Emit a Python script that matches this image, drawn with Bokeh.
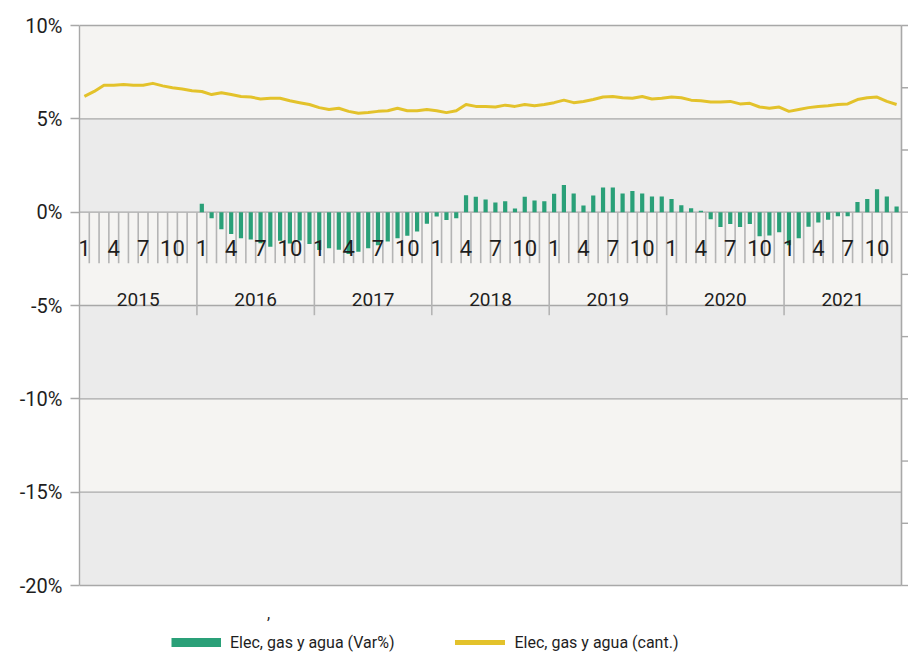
import math
from bokeh.plotting import figure
from bokeh.models import (Range1d, FixedTicker, BoxAnnotation, Legend,
                          LegendItem, Label, ColumnDataSource)
from bokeh.core.properties import value
from bokeh.embed import file_html
from bokeh.resources import INLINE

# ---------------- data ----------------
years = ["2015", "2016", "2017", "2018", "2019", "2020", "2021"]
months = [str(m) for m in range(1, 13)]
shown_month_labels = ["1", "4", "7", "10"]

NA = float("nan")
# Elec, gas y agua (Var%) -- monthly year-on-year variation
var_2015 = [NA] * 12
var_2016 = [0.45, -0.33, -0.91, -1.17, -1.40, -1.46, -1.66, -1.85, -1.53, -1.68, -1.52, -1.71]
var_2017 = [-2.03, -1.93, -2.02, -2.24, -2.12, -1.93, -1.77, -1.57, -1.40, -1.27, -1.03, -0.62]
var_2018 = [-0.23, -0.42, -0.33, 0.91, 0.83, 0.68, 0.52, 0.59, 0.20, 0.82, 0.63, 0.59]
var_2019 = [0.98, 1.45, 1.00, 0.36, 0.89, 1.32, 1.32, 1.00, 1.14, 1.00, 0.84, 0.84]
var_2020 = [0.70, 0.37, 0.21, 0.08, -0.38, -0.79, -0.63, -0.79, -0.63, -1.29, -1.25, -1.07]
var_2021 = [-1.77, -1.40, -0.78, -0.55, -0.40, -0.22, -0.22, 0.54, 0.70, 1.23, 0.84, 0.30]

# Elec, gas y agua (cant.) -- secondary (unlabelled) axis units
cant_2015 = [7.86, 7.94, 8.04, 8.04, 8.05, 8.04, 8.04, 8.07, 8.03, 8.00, 7.98, 7.95]
cant_2016 = [7.94, 7.89, 7.92, 7.89, 7.86, 7.85, 7.82, 7.83, 7.83, 7.79, 7.76, 7.73]
cant_2017 = [7.68, 7.65, 7.67, 7.62, 7.59, 7.60, 7.62, 7.63, 7.67, 7.63, 7.63, 7.65]
cant_2018 = [7.63, 7.60, 7.63, 7.73, 7.70, 7.70, 7.69, 7.72, 7.70, 7.73, 7.71, 7.73]
cant_2019 = [7.76, 7.80, 7.76, 7.78, 7.81, 7.85, 7.86, 7.84, 7.83, 7.86, 7.82, 7.83]
cant_2020 = [7.85, 7.84, 7.80, 7.79, 7.77, 7.77, 7.78, 7.74, 7.75, 7.69, 7.67, 7.69]
cant_2021 = [7.62, 7.65, 7.68, 7.70, 7.71, 7.73, 7.74, 7.81, 7.84, 7.85, 7.78, 7.73]

pct_ticks = [-20, -15, -10, -5, 0, 5, 10]
cant_ticks = [0, 1, 2, 3, 4, 5, 6, 7, 8, 9]

var_all = var_2015 + var_2016 + var_2017 + var_2018 + var_2019 + var_2020 + var_2021
cant_all = cant_2015 + cant_2016 + cant_2017 + cant_2018 + cant_2019 + cant_2020 + cant_2021
n = len(var_all)
xc = [i + 0.5 for i in range(n)]

# ---------------- layout ----------------
W, H = 908, 658
LEFT, TOP = 79, 25            # plot area left / top edge (px)
PLOT_W, PLOT_H = 822, 560     # plot area between first/last month and -20..10 %
px_month = PLOT_W / n
px_pct = PLOT_H / (pct_ticks[-1] - pct_ticks[0])
frame_w = W - LEFT
x_end = frame_w / px_month
y_lo = pct_ticks[0] - (H - TOP - PLOT_H) / px_pct
y_hi = pct_ticks[-1] + TOP / px_pct
k = (cant_ticks[-1] - cant_ticks[0]) / (pct_ticks[-1] - pct_ticks[0])
c_lo = cant_ticks[0] + (y_lo - pct_ticks[0]) * k
c_hi = cant_ticks[0] + (y_hi - pct_ticks[0]) * k

FONT = "Roboto"
TXT = "#1e1e1e"
GRID = "#a8a8a8"
TICK = "#b4b4b4"
GREEN = "#2aa078"
YELLOW = "#e3c22b"
LIGHT = "#f5f4f2"
DARK = "#ebebeb"

MONTH_TICK_BOTTOM = -2.73
YEAR_TICK_BOTTOM = -5.52
MONTH_LABEL_Y = -1.9
YEAR_LABEL_Y = -4.7
RTICK = 7 / px_month

p = figure(width=W, height=H,
           x_range=Range1d(0, x_end), y_range=Range1d(y_lo, y_hi),
           output_backend="svg", toolbar_location=None, x_axis_location=None,
           min_border_left=LEFT, min_border_right=0, min_border_top=0, min_border_bottom=0)
p.outline_line_color = None
p.background_fill_color = "white"
p.border_fill_color = "white"
p.xgrid.visible = False
p.ygrid.visible = False
p.extra_y_ranges = {"cant": Range1d(c_lo, c_hi)}

# alternating bands
for i in range(len(pct_ticks) - 1):
    p.add_layout(BoxAnnotation(left=0, right=n, bottom=pct_ticks[i], top=pct_ticks[i + 1],
                               fill_color=DARK if i % 2 == 0 else LIGHT, fill_alpha=1.0,
                               line_color=None, level="image"))

# horizontal grid lines
p.segment(x0=[0] * len(pct_ticks), x1=[n] * len(pct_ticks), y0=pct_ticks, y1=pct_ticks,
          line_color=GRID, line_width=1.4)

ax = p.yaxis[0]
ax.ticker = FixedTicker(ticks=pct_ticks)
ax.bounds = (pct_ticks[0], pct_ticks[-1])
ax.major_label_overrides = {t: f"{t}%" for t in pct_ticks}
ax.axis_line_color = GRID
ax.axis_line_width = 1.4
ax.major_tick_line_color = GRID
ax.major_tick_line_width = 1.4
ax.major_tick_out = 9
ax.major_tick_in = 0
ax.minor_tick_out = 0
ax.minor_tick_in = 0
ax.major_label_standoff = 8
ax.major_label_text_font = FONT
ax.major_label_text_font_size = "20px"
ax.major_label_text_color = TXT

# secondary (unlabelled) axis on the right
p.segment(x0=[n], x1=[n], y0=[cant_ticks[0]], y1=[cant_ticks[-1]], y_range_name="cant",
          line_color=GRID, line_width=1.6)
p.segment(x0=[n] * len(cant_ticks), x1=[n + RTICK] * len(cant_ticks), y0=cant_ticks,
          y1=cant_ticks, y_range_name="cant", line_color=GRID, line_width=1.4)

# category axis drawn at 0 %
m_bound = [b for b in range(1, n) if b % 12 != 0]
y_bound = [b for b in range(12, n, 12)]
p.segment(x0=m_bound, x1=m_bound, y0=[0] * len(m_bound), y1=[MONTH_TICK_BOTTOM] * len(m_bound),
          line_color=TICK, line_width=1.6)
p.segment(x0=y_bound, x1=y_bound, y0=[0] * len(y_bound), y1=[YEAR_TICK_BOTTOM] * len(y_bound),
          line_color=TICK, line_width=1.6)

# bars
p.vbar(x=xc, top=var_all, bottom=0, width=0.43, fill_color=GREEN, line_color=None)

# month & year labels
lab_x, lab_t = [], []
for yi, _ in enumerate(years):
    for mi, m in enumerate(months):
        if m in shown_month_labels:
            lab_x.append(yi * 12 + mi + 0.5)
            lab_t.append(m)
p.text(x=lab_x, y=[MONTH_LABEL_Y] * len(lab_x), text=lab_t, text_align="center",
       text_baseline="middle", text_font=value(FONT), text_font_size="22px", text_color=TXT)
yr_x = [yi * 12 + 6 for yi in range(len(years))]
p.text(x=yr_x, y=[YEAR_LABEL_Y] * len(years), text=years, text_align="center",
       text_baseline="middle", text_font=value(FONT), text_font_size="19px", text_color=TXT)

# line on secondary axis
p.line(x=xc, y=cant_all, y_range_name="cant", line_color=YELLOW, line_width=3, line_join="round")

# legend with proxy renderers (single NaN point -> nothing drawn in the plot)
proxy_src = ColumnDataSource(data=dict(x=[NA, NA], y=[NA, NA]))
proxy_bar = p.line(x="x", y="y", source=proxy_src, line_color=GREEN, line_width=9, line_cap="butt")
proxy_line = p.line(x="x", y="y", source=proxy_src, line_color=YELLOW, line_width=5, line_cap="round")
legend = Legend(items=[LegendItem(label="Elec, gas y agua (Var%)", renderers=[proxy_bar]),
                       LegendItem(label="Elec, gas y agua (cant.)", renderers=[proxy_line])],
                orientation="horizontal", location=(171 - LEFT, 6), glyph_width=50, glyph_height=20,
                label_standoff=9, spacing=61, padding=0, margin=0,
                border_line_color=None, background_fill_alpha=0,
                label_text_font=FONT, label_text_font_size="16px", label_text_color=TXT)
p.add_layout(legend)

p.add_layout(Label(x=268 - LEFT, y=H - 612, x_units="screen", y_units="screen", text=",",
                   text_align="center", text_baseline="middle", text_font=FONT,
                   text_font_size="16px", text_color=TXT))

open("out.html", "w").write(file_html(p, INLINE))
